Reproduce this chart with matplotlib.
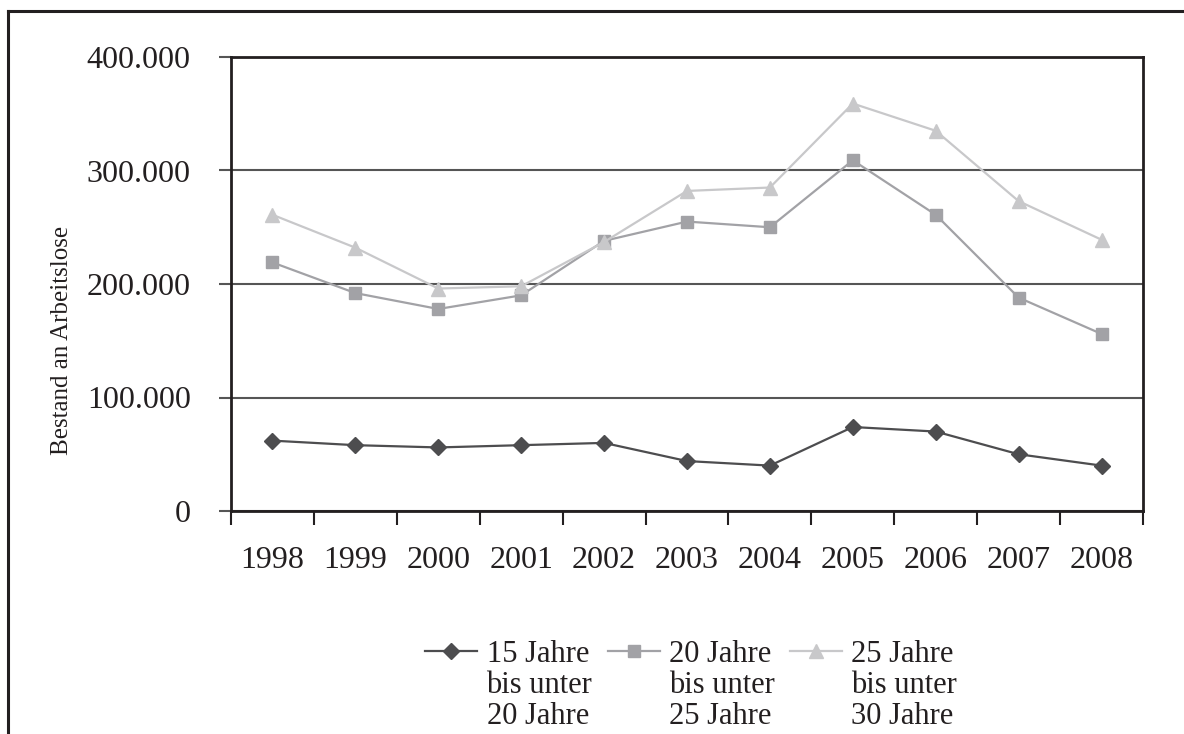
import matplotlib
matplotlib.use("Agg")
import matplotlib.pyplot as plt
from matplotlib.lines import Line2D
from matplotlib.patches import Rectangle
from matplotlib.ticker import FixedLocator, FuncFormatter

years = ["1998", "1999", "2000", "2001", "2002", "2003", "2004", "2005", "2006", "2007", "2008"]
age_15_20 = [62000, 58000, 56000, 58000, 60000, 44000, 40000, 74000, 70000, 50000, 40000]
age_20_25 = [219000, 192000, 178000, 190000, 238000, 255000, 250000, 309000, 261000, 188000, 156000]
age_25_30 = [261000, 232000, 196000, 198000, 237000, 282000, 285000, 359000, 335000, 273000, 239000]
labels = ["15 Jahre\nbis unter\n20 Jahre", "20 Jahre\nbis unter\n25 Jahre", "25 Jahre\nbis unter\n30 Jahre"]
y_ticks = [0, 100000, 200000, 300000, 400000]

plt.rcParams["font.family"] = ["Liberation Serif", "DejaVu Serif"]

fig = plt.figure(figsize=(11.84, 7.34), dpi=100)
ax = fig.add_axes([231 / 1184, 1 - 511 / 734, (1143 - 231) / 1184, (511 - 57) / 734])

x = list(range(len(years)))
ax.plot(x, age_15_20, color="#4d4d4f", lw=1.6, marker="D", ms=8, label=labels[0])
ax.plot(x, age_20_25, color="#a2a2a6", lw=1.6, marker="s", ms=8.5, label=labels[1])
ax.plot(x, age_25_30, color="#c8c8ca", lw=1.6, marker="^", ms=9.5, label=labels[2])

ax.set_xlim(-0.5, len(years) - 0.5)
ax.set_ylim(0, 400000)
ax.set_yticks(y_ticks)
ax.yaxis.set_major_formatter(FuncFormatter(lambda v, p: "0" if v == 0 else f"{int(v):,}".replace(",", ".")))
ax.grid(axis="y", color="#555555", lw=1.5)
ax.set_axisbelow(True)

# category labels centred, ticks between categories
ax.set_xticks(x)
ax.set_xticklabels(years)
ax.xaxis.set_minor_locator(FixedLocator([i - 0.5 for i in range(len(years) + 1)]))
ax.tick_params(axis="x", which="major", length=0, pad=25, labelsize=23, colors="#231f20")
ax.tick_params(axis="x", which="minor", length=10, width=1.5, direction="out", color="#231f20")
ax.tick_params(axis="y", length=9, width=1.5, direction="out", pad=20, labelsize=23,
               colors="#231f20", color="#555555")
for s in ax.spines.values():
    s.set_linewidth(2)
    s.set_color("#231f20")

leg = ax.legend(loc="upper center", bbox_to_anchor=(691 / 1184, 1 - 640 / 734),
                bbox_transform=fig.transFigure, ncol=3, frameon=False, fontsize=22,
                handlelength=1.7, handletextpad=0.3, columnspacing=0.5, borderpad=0,
                borderaxespad=0)
for t in leg.get_texts():
    t.set_linespacing(1.1)
    t.set_color("#231f20")
for col in leg._legend_handle_box.get_children():
    for item in col.get_children():
        item.align = "top"

# y-axis title, clipped at the top like the source
ylab = fig.text(62 / 1184, 1 - 455 / 734, "Bestand an Arbeitslosen", rotation=90,
                ha="center", va="bottom", fontsize=18, color="#231f20")
clip = Rectangle((0, 0), 0.2, 1 - 227 / 734, transform=fig.transFigure)
ylab.set_clip_path(clip)

# outer frame
fig.add_artist(Line2D([8 / 1184, 8 / 1184], [0, 1 - 11 / 734], color="#231f20", lw=2.2))
fig.add_artist(Line2D([8 / 1184, 1], [1 - 11 / 734, 1 - 11 / 734], color="#231f20", lw=2.2))

fig.savefig("out.png", dpi=100)
